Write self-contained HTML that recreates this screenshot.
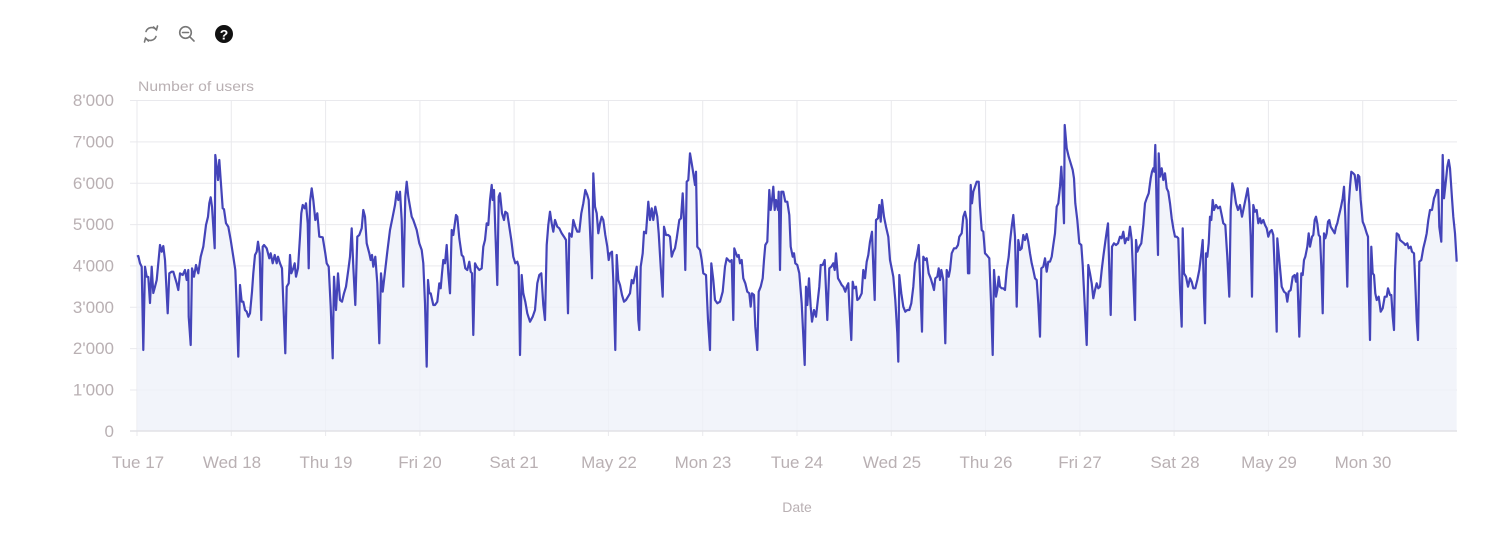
<!DOCTYPE html>
<html><head><meta charset="utf-8"><style>
html,body{margin:0;padding:0;background:#fff;}
svg{display:block;}
text{font-family:"Liberation Sans",sans-serif;}
</style></head><body>
<svg width="1500" height="535" viewBox="0 0 1500 535" xmlns="http://www.w3.org/2000/svg">
<!-- toolbar icons -->
<g fill="none" stroke="#777" stroke-width="1.6" stroke-linecap="round">
  <path d="M146 31.5 A6 6 0 0 1 156 29.5"/>
  <path d="M156 36.5 A6 6 0 0 1 146 38.5"/>
  <path d="M153.5 27 L156.5 29.8 L157.5 26"/>
  <path d="M148.5 41 L145.5 38.2 L144.5 42"/>
  <circle cx="185.5" cy="32.5" r="5.8"/>
  <line x1="189.8" y1="36.8" x2="194" y2="41"/>
  <line x1="182.5" y1="32.5" x2="188.5" y2="32.5"/>
</g>
<circle cx="224" cy="34" r="9" fill="#111"/>
<text x="224" y="39.5" font-size="14" font-weight="bold" fill="#fff" text-anchor="middle">?</text>

<text x="138" y="91" font-size="14" fill="#b9b0b3" textLength="116" lengthAdjust="spacingAndGlyphs">Number of users</text>

<!-- plot background fill area -->
<g stroke="#e9e9ed" stroke-width="1">
  <line x1="130" y1="100.5" x2="1457" y2="100.5"/>
  <line x1="130" y1="141.9" x2="1457" y2="141.9"/>
  <line x1="130" y1="183.2" x2="1457" y2="183.2"/>
  <line x1="130" y1="224.6" x2="1457" y2="224.6"/>
  <line x1="130" y1="265.9" x2="1457" y2="265.9"/>
  <line x1="130" y1="307.3" x2="1457" y2="307.3"/>
  <line x1="130" y1="348.6" x2="1457" y2="348.6"/>
  <line x1="130" y1="390" x2="1457" y2="390"/>
  <line x1="137" y1="100" x2="137" y2="436"/>
  <line x1="231.3" y1="100" x2="231.3" y2="436"/>
  <line x1="325.6" y1="100" x2="325.6" y2="436"/>
  <line x1="419.9" y1="100" x2="419.9" y2="436"/>
  <line x1="514.1" y1="100" x2="514.1" y2="436"/>
  <line x1="608.4" y1="100" x2="608.4" y2="436"/>
  <line x1="702.7" y1="100" x2="702.7" y2="436"/>
  <line x1="797" y1="100" x2="797" y2="436"/>
  <line x1="891.3" y1="100" x2="891.3" y2="436"/>
  <line x1="985.6" y1="100" x2="985.6" y2="436"/>
  <line x1="1079.9" y1="100" x2="1079.9" y2="436"/>
  <line x1="1174.1" y1="100" x2="1174.1" y2="436"/>
  <line x1="1268.4" y1="100" x2="1268.4" y2="436"/>
  <line x1="1362.7" y1="100" x2="1362.7" y2="436"/>
</g>

<path id="series" fill="#eef0f8" fill-opacity="0.75" stroke="none" d="M137,431 L137,256.7 138.3,256 140,263.3 141.7,266.7 143.3,350 145,266.7 146.7,276.7 148.3,277 150,303 151.7,266.7 153.3,293 155,286.7 156.7,280 160,245 161.7,251.7 163.3,246 165,260 167.7,313.3 169.3,273.3 171.7,271.7 173.3,271.7 176.7,283.3 178.3,290 180,273.3 182.7,275 185,270 186.7,280 188.3,270 188.7,316.7 190.7,345 192,268.3 194,276.7 196,265 198.3,273.3 200.7,256.7 203.3,246.7 206,225 208,216.7 209.3,203.3 210.7,197.3 212,206.7 213.3,226.7 214.7,248.3 215.3,155 216.7,166.7 218,180 219.3,160 220.7,180 222.7,208.3 224,209.3 226,223.3 228.3,226.7 230.7,240 233.3,256.7 235.3,270 236.7,306.7 238.3,356.7 240,285 241.7,301.7 243.3,301.7 245,310 246.7,311.7 248.3,316.7 250,313.3 252,291.7 253.3,273.3 255,255 256.7,251.7 258,241.7 259.7,253.3 261.3,320 262.7,246.7 264,245 266.7,248.3 269.3,258.3 270.7,253.3 272.7,263.3 274.7,255 276.7,263.3 278,256.7 280,263.3 282,268.3 284,320 285.3,353.3 286.7,286.7 288.7,283.3 290,255 291.3,273.3 293.3,268.3 294.7,263.3 296,276.7 298,268.3 300,236.7 301.3,213.3 302.7,205 304.7,208.3 306,203.3 307.7,223.3 308.7,268.3 310,201.7 311.7,188.3 313.3,200 315.3,220 317.3,213.3 319.3,236.7 322.7,237.3 325.3,253.3 326.7,263.3 328.7,266.7 330.7,306.7 332.7,358.3 334,276.7 336,310 338,273.3 340,300 342,301.7 344,293.3 346,286.7 348.3,270 350,256.7 351.7,228.3 353.3,266.7 355.3,305 357.3,236.7 359.3,235 361.7,228.3 363.3,210 365,216.7 366.7,243.3 369.3,253.3 370.7,260 372,255 373.3,266.7 375.3,256.7 377.3,283.3 379.3,343.3 381,273.3 382.7,291.7 385,271.7 387.3,251.7 390,230 392.7,216.7 395,205 396.7,191.7 398.3,200 400,191.7 401.7,220 403.3,286.7 405.3,196.7 406.7,181.7 408.3,196.7 410,206.7 411.7,216.7 413.3,220 416.7,230 419.3,243.3 421.7,250 423.3,263.3 425,303.3 426.7,366.7 428,280 429.3,293.3 430.7,293.3 433.3,305 435,305 437.3,301.7 439.3,283.3 440.7,288.3 442,273.3 443.3,260 445,263.3 446.7,245 448.3,273.3 450,293.3 451.7,230 453.3,235 456,215 457.3,216.7 459.3,238.3 461.7,255 463.3,256.7 465.3,268.3 467.3,270 469.3,261.7 470.7,271.7 472,273.3 473.3,335 475,263.3 476.7,266.7 479.3,270 481.7,268.3 483.3,246.7 485,240 486.7,223.3 488.3,225 490,200 491.7,185 492.7,200 494,190 495.3,230 497.3,285 498.7,196.7 500,193.3 502,213.3 504,220 505.3,211.7 507.3,213.3 509.3,226.7 511.3,240 513.3,256.7 515.3,263.3 517.3,261.7 518.7,266.7 520,355 521.7,275 523.3,293.3 525.3,301.7 527.3,313.3 530,321.7 532.7,316.7 535,310 537.3,283.3 539.3,275 541.3,273.3 543.3,305 545,320 546.7,245 548.3,225 550,211.7 551.7,223.3 553.3,231.7 555,220 557.3,226.7 559.3,228.3 561.7,233.3 564,236.7 566,240 568,313.3 569.3,233.3 571.7,236.7 573.3,220 575.3,226.7 577.3,231.7 579.3,231.7 581.3,213.3 583.3,203.3 585.3,190 587.3,195 588.7,200 590,230 592,278.3 593.3,173.3 595,206.7 596.7,213.3 598.3,233.3 600,223.3 601.7,216.7 603.3,220 605.3,235 607.3,246.7 608.7,260 610,253.3 612,251.7 613.3,280 615.3,350 616.7,255 618.3,280 620,285 622,295 624,301.7 626,300 628,296.7 630,293.3 631.7,280 633.3,283.3 635,275 636.7,266.7 638.3,320 639.3,330 640.7,266.7 642.7,253.3 644,231.7 646,233.3 648.3,201.7 650,220 651.7,208.3 653.3,220 655.3,206.7 657.3,216.7 658.7,233.3 660.7,266.7 662.7,296.7 664,226.7 666,235 668.3,235 670,236.7 671.7,256.7 673.3,251.7 675,248.3 676.7,238.3 679.3,220 681,218.3 682.7,193.3 684,220 685.3,270 686.7,181.7 688.3,180 690,153.3 691.7,163.3 693.3,173.3 695,185 696,171.7 697.3,246.7 700,250 701.7,260 703.3,273.3 706,275 708,320 710,350 711.3,263.3 713.3,280 715,300 717.3,303.3 720,301.7 722.7,291.7 725,266.7 726.7,258.3 728.3,260 730,261.7 731.7,260 733.3,320 734.3,248.3 736,253.3 737.3,256.7 738.7,255 740,263.3 741.7,260 743.3,278.3 745.3,283.3 747.3,291.7 749.3,293.3 750.7,306.7 752,293.3 754,295 755.3,326.7 757.3,350 758.7,291.7 760.7,286.7 762.7,278.3 764,260 765.3,245 767.3,241.7 769.3,190 770.7,210 772,200 773.3,186.7 774.7,210 776,200 778,210 778.7,191.7 780,270 781.3,191.7 783.3,191.7 785.3,201.7 787.3,201.7 789.3,215 790.7,246.7 792.7,256.7 794,253.3 795.3,263.3 797.3,265 799.3,273.3 801.7,303.3 804.7,365 806,286.7 807.3,305 809,278.3 810.7,306.7 812,321.7 814,310 816,316.7 817.3,305 819.3,286.7 820.7,265 822.7,265 824.7,260 826,290 827.3,320 829.3,268.3 831.3,266.7 833.3,263.3 834.7,270 836,253.3 838,278.3 840,281.7 841.7,285 843.3,286.7 845.3,291.7 846.7,286.7 848.3,283.3 849.3,305 851.3,340 852.7,281.7 854,288.3 856,286.7 857.3,300 859.3,298.3 861.7,293.3 863.3,270 865,278.3 866.7,261.7 868.3,255 870,241.7 872,231.7 873.3,266.7 874.7,300 876,220 878,218.3 879.3,205 880.7,221.7 882,200 884,216.7 886,226.7 888.3,236.7 890,260 892,270 893.3,276.7 895.3,300 897.3,333.3 898.3,361.7 899.3,275 901.3,293.3 903.3,306.7 905.3,311.7 907.3,310 909.3,310 911.3,303.3 913.3,286.7 915,263.3 916.7,256.7 918.7,245 920,276.7 922,331.7 923.3,256.7 925.3,260 926.7,258.3 928.7,273.3 930.7,278.3 932.7,285 934,290 935.3,278.3 937.3,276.7 938.7,268.3 940,280 941.3,270 943.3,280 945.3,343.3 946.7,270 948.7,276.7 950,270 951.7,253.3 954,248.3 956,248.3 958,245 959.3,236.7 961.7,233.3 963.3,216.7 965,211.7 966.7,220 968,273.3 969.3,273.3 970.7,185 972,203.3 973.3,191.7 975,186.7 976.7,181.7 978.7,181.7 980,206.7 981.7,230 983.3,231.7 985,253.3 986.7,255 989.3,258.3 991,301.7 992.7,355 994,270 996,296.7 997.3,290 998.7,276.7 1000,286.7 1001.7,288.3 1003.3,288.3 1005,290 1006.7,270 1008.7,256.7 1010,241.7 1011.7,226.7 1013.3,215 1015,236.7 1016.7,306.7 1018.3,240 1020,250 1021.7,248.3 1023.3,235 1025,240 1026.7,234 1028.3,241.7 1030,253.3 1031.7,263.3 1033.3,270 1035,278.3 1036.7,280 1038.3,303.3 1040,336.7 1041.3,268.3 1043.3,266.7 1045,258.3 1046.7,271.7 1048.3,261.7 1050,261.7 1051.7,256.7 1053.3,245 1055,233.3 1056.7,206.7 1058.3,203.3 1060,186.7 1061.3,166.7 1062.7,191.7 1064,223.3 1064.7,125 1066.7,148.3 1068.7,156.7 1070.7,163.3 1072.7,170 1074,178.3 1075.3,203.3 1077.3,220 1079.3,243.3 1081.3,245 1082.7,265 1084.3,296.7 1086.7,345 1088.3,265 1090,273.3 1091.7,283.3 1093.3,298.3 1095,290 1096.7,283.3 1098.3,288.3 1100,286.7 1101.7,270 1103.3,256.7 1105.3,241.7 1106.7,231.7 1108,223.3 1109.3,270 1110.7,315 1112,246.7 1114,243.3 1116,245 1118,243.3 1120,236.7 1121.7,238.3 1123.3,231.7 1125,243.3 1126.7,238.3 1128.3,240 1130,226.7 1131.7,240 1133.3,280 1135,320 1136,240 1137.3,251.7 1139.3,246.7 1141.3,243.3 1143.3,225 1145,203.3 1146.7,198.3 1148.7,193.3 1150.7,178.3 1152,171.7 1153.3,168.3 1154.3,171.7 1155.3,145 1156.7,210 1158,255 1158.7,153.3 1160,176.7 1161.7,168.3 1163.3,180 1165,173.3 1166.7,188.3 1168.3,191.7 1170,203.3 1171.7,218.3 1173.3,228.3 1175,236.7 1176.7,236.7 1178.3,238.3 1180,290 1181.7,326.7 1182.7,228.3 1184,273.3 1186,276.7 1188,286.7 1190,278.3 1191.7,281.7 1193.3,288.3 1195.3,288.3 1197.3,280 1199.3,270 1201.3,253.3 1202.7,240 1204,296.7 1205,323.3 1206,253.3 1207.3,256.7 1208.7,243.3 1210,216.7 1211.3,220 1212.7,200 1214,210 1216,205 1218,208.3 1220,206.7 1221.7,215 1223.3,223.3 1225.3,225 1227.3,256.7 1229.3,296.7 1230.7,210 1232.3,183.3 1234,190 1236,203.3 1238,210 1240,205 1242,216.7 1244,206.7 1246,196.7 1247.7,188.3 1249.3,203.3 1250.7,236.7 1252,296.7 1253.3,205 1255,211.7 1256.7,210 1258.3,223.3 1260,218.3 1261.3,223.3 1263.3,220 1265,225 1266.7,228.3 1268.3,236.7 1270,231.7 1271.7,230 1273.3,235 1275,276.7 1276.7,331.7 1277.3,238.3 1279.3,260 1281.7,286.7 1284,291.7 1286,293.3 1287.3,301.7 1288.7,291.7 1290.7,290 1292.7,276.7 1294.7,275 1296,281.7 1297.3,273.3 1299.3,336.7 1301.3,273.3 1302.7,275 1304,260 1305.3,256.7 1307.3,246.7 1308.7,233.3 1310,246.7 1312,236.7 1313.3,235 1314.7,220 1316,216.7 1317.3,223.3 1318.7,235 1320,236.7 1321.3,266.7 1322.7,313.3 1324,233.3 1325.3,238.3 1326.7,233.3 1328,221.7 1329.3,220 1330.7,226.7 1332.7,230 1334.7,233.3 1336,226.7 1337.3,223.3 1338.7,216.7 1340.7,208.3 1342.7,198.3 1344,186.7 1345.3,216.7 1347.3,286.7 1348.7,205 1350,186.7 1351.3,171.7 1353.3,173.3 1354.7,175 1356.7,190 1358,175 1359.3,176.7 1360.7,200 1362.7,221.7 1364.7,226.7 1366.7,233.3 1368,236.7 1368.7,286.7 1370,340 1371.3,246.7 1372.7,273.3 1374,275 1375.3,293.3 1376.7,300 1378.7,296.7 1380.7,311.7 1382.7,308.3 1384.7,296.7 1386.7,296.7 1388,288.3 1390,295 1391.3,295 1392.7,316.7 1394,330 1395,271.7 1396.7,233.3 1398.7,235 1400,240 1402,241.7 1404,243.3 1405.3,245 1407.3,243.3 1408.7,248.3 1410.7,246.7 1412,251.7 1414,253.3 1415.3,283.3 1416.7,320 1418,340 1419.3,261.7 1421.3,260 1423.3,248.3 1425.3,240 1426.7,233.3 1428.3,220 1430,210 1432,210 1434,198.3 1435.3,195 1436.7,190 1438.3,190 1439.3,226.7 1441.3,241.7 1442.7,155 1444,198.3 1446,180 1447.3,166.7 1448.7,160 1450,168.3 1452,198.3 1453.3,216.7 1455,233.3 1456.7,261.7 L1456.7,431 Z"/>

<!-- baseline -->
<line x1="130" y1="431" x2="1457" y2="431" stroke="#e2e2e6" stroke-width="1.5"/>

<polyline fill="none" stroke="#4444b9" stroke-width="2.2" stroke-linejoin="round" points="137,256.7 138.3,256 140,263.3 141.7,266.7 143.3,350 145,266.7 146.7,276.7 148.3,277 150,303 151.7,266.7 153.3,293 155,286.7 156.7,280 160,245 161.7,251.7 163.3,246 165,260 167.7,313.3 169.3,273.3 171.7,271.7 173.3,271.7 176.7,283.3 178.3,290 180,273.3 182.7,275 185,270 186.7,280 188.3,270 188.7,316.7 190.7,345 192,268.3 194,276.7 196,265 198.3,273.3 200.7,256.7 203.3,246.7 206,225 208,216.7 209.3,203.3 210.7,197.3 212,206.7 213.3,226.7 214.7,248.3 215.3,155 216.7,166.7 218,180 219.3,160 220.7,180 222.7,208.3 224,209.3 226,223.3 228.3,226.7 230.7,240 233.3,256.7 235.3,270 236.7,306.7 238.3,356.7 240,285 241.7,301.7 243.3,301.7 245,310 246.7,311.7 248.3,316.7 250,313.3 252,291.7 253.3,273.3 255,255 256.7,251.7 258,241.7 259.7,253.3 261.3,320 262.7,246.7 264,245 266.7,248.3 269.3,258.3 270.7,253.3 272.7,263.3 274.7,255 276.7,263.3 278,256.7 280,263.3 282,268.3 284,320 285.3,353.3 286.7,286.7 288.7,283.3 290,255 291.3,273.3 293.3,268.3 294.7,263.3 296,276.7 298,268.3 300,236.7 301.3,213.3 302.7,205 304.7,208.3 306,203.3 307.7,223.3 308.7,268.3 310,201.7 311.7,188.3 313.3,200 315.3,220 317.3,213.3 319.3,236.7 322.7,237.3 325.3,253.3 326.7,263.3 328.7,266.7 330.7,306.7 332.7,358.3 334,276.7 336,310 338,273.3 340,300 342,301.7 344,293.3 346,286.7 348.3,270 350,256.7 351.7,228.3 353.3,266.7 355.3,305 357.3,236.7 359.3,235 361.7,228.3 363.3,210 365,216.7 366.7,243.3 369.3,253.3 370.7,260 372,255 373.3,266.7 375.3,256.7 377.3,283.3 379.3,343.3 381,273.3 382.7,291.7 385,271.7 387.3,251.7 390,230 392.7,216.7 395,205 396.7,191.7 398.3,200 400,191.7 401.7,220 403.3,286.7 405.3,196.7 406.7,181.7 408.3,196.7 410,206.7 411.7,216.7 413.3,220 416.7,230 419.3,243.3 421.7,250 423.3,263.3 425,303.3 426.7,366.7 428,280 429.3,293.3 430.7,293.3 433.3,305 435,305 437.3,301.7 439.3,283.3 440.7,288.3 442,273.3 443.3,260 445,263.3 446.7,245 448.3,273.3 450,293.3 451.7,230 453.3,235 456,215 457.3,216.7 459.3,238.3 461.7,255 463.3,256.7 465.3,268.3 467.3,270 469.3,261.7 470.7,271.7 472,273.3 473.3,335 475,263.3 476.7,266.7 479.3,270 481.7,268.3 483.3,246.7 485,240 486.7,223.3 488.3,225 490,200 491.7,185 492.7,200 494,190 495.3,230 497.3,285 498.7,196.7 500,193.3 502,213.3 504,220 505.3,211.7 507.3,213.3 509.3,226.7 511.3,240 513.3,256.7 515.3,263.3 517.3,261.7 518.7,266.7 520,355 521.7,275 523.3,293.3 525.3,301.7 527.3,313.3 530,321.7 532.7,316.7 535,310 537.3,283.3 539.3,275 541.3,273.3 543.3,305 545,320 546.7,245 548.3,225 550,211.7 551.7,223.3 553.3,231.7 555,220 557.3,226.7 559.3,228.3 561.7,233.3 564,236.7 566,240 568,313.3 569.3,233.3 571.7,236.7 573.3,220 575.3,226.7 577.3,231.7 579.3,231.7 581.3,213.3 583.3,203.3 585.3,190 587.3,195 588.7,200 590,230 592,278.3 593.3,173.3 595,206.7 596.7,213.3 598.3,233.3 600,223.3 601.7,216.7 603.3,220 605.3,235 607.3,246.7 608.7,260 610,253.3 612,251.7 613.3,280 615.3,350 616.7,255 618.3,280 620,285 622,295 624,301.7 626,300 628,296.7 630,293.3 631.7,280 633.3,283.3 635,275 636.7,266.7 638.3,320 639.3,330 640.7,266.7 642.7,253.3 644,231.7 646,233.3 648.3,201.7 650,220 651.7,208.3 653.3,220 655.3,206.7 657.3,216.7 658.7,233.3 660.7,266.7 662.7,296.7 664,226.7 666,235 668.3,235 670,236.7 671.7,256.7 673.3,251.7 675,248.3 676.7,238.3 679.3,220 681,218.3 682.7,193.3 684,220 685.3,270 686.7,181.7 688.3,180 690,153.3 691.7,163.3 693.3,173.3 695,185 696,171.7 697.3,246.7 700,250 701.7,260 703.3,273.3 706,275 708,320 710,350 711.3,263.3 713.3,280 715,300 717.3,303.3 720,301.7 722.7,291.7 725,266.7 726.7,258.3 728.3,260 730,261.7 731.7,260 733.3,320 734.3,248.3 736,253.3 737.3,256.7 738.7,255 740,263.3 741.7,260 743.3,278.3 745.3,283.3 747.3,291.7 749.3,293.3 750.7,306.7 752,293.3 754,295 755.3,326.7 757.3,350 758.7,291.7 760.7,286.7 762.7,278.3 764,260 765.3,245 767.3,241.7 769.3,190 770.7,210 772,200 773.3,186.7 774.7,210 776,200 778,210 778.7,191.7 780,270 781.3,191.7 783.3,191.7 785.3,201.7 787.3,201.7 789.3,215 790.7,246.7 792.7,256.7 794,253.3 795.3,263.3 797.3,265 799.3,273.3 801.7,303.3 804.7,365 806,286.7 807.3,305 809,278.3 810.7,306.7 812,321.7 814,310 816,316.7 817.3,305 819.3,286.7 820.7,265 822.7,265 824.7,260 826,290 827.3,320 829.3,268.3 831.3,266.7 833.3,263.3 834.7,270 836,253.3 838,278.3 840,281.7 841.7,285 843.3,286.7 845.3,291.7 846.7,286.7 848.3,283.3 849.3,305 851.3,340 852.7,281.7 854,288.3 856,286.7 857.3,300 859.3,298.3 861.7,293.3 863.3,270 865,278.3 866.7,261.7 868.3,255 870,241.7 872,231.7 873.3,266.7 874.7,300 876,220 878,218.3 879.3,205 880.7,221.7 882,200 884,216.7 886,226.7 888.3,236.7 890,260 892,270 893.3,276.7 895.3,300 897.3,333.3 898.3,361.7 899.3,275 901.3,293.3 903.3,306.7 905.3,311.7 907.3,310 909.3,310 911.3,303.3 913.3,286.7 915,263.3 916.7,256.7 918.7,245 920,276.7 922,331.7 923.3,256.7 925.3,260 926.7,258.3 928.7,273.3 930.7,278.3 932.7,285 934,290 935.3,278.3 937.3,276.7 938.7,268.3 940,280 941.3,270 943.3,280 945.3,343.3 946.7,270 948.7,276.7 950,270 951.7,253.3 954,248.3 956,248.3 958,245 959.3,236.7 961.7,233.3 963.3,216.7 965,211.7 966.7,220 968,273.3 969.3,273.3 970.7,185 972,203.3 973.3,191.7 975,186.7 976.7,181.7 978.7,181.7 980,206.7 981.7,230 983.3,231.7 985,253.3 986.7,255 989.3,258.3 991,301.7 992.7,355 994,270 996,296.7 997.3,290 998.7,276.7 1000,286.7 1001.7,288.3 1003.3,288.3 1005,290 1006.7,270 1008.7,256.7 1010,241.7 1011.7,226.7 1013.3,215 1015,236.7 1016.7,306.7 1018.3,240 1020,250 1021.7,248.3 1023.3,235 1025,240 1026.7,234 1028.3,241.7 1030,253.3 1031.7,263.3 1033.3,270 1035,278.3 1036.7,280 1038.3,303.3 1040,336.7 1041.3,268.3 1043.3,266.7 1045,258.3 1046.7,271.7 1048.3,261.7 1050,261.7 1051.7,256.7 1053.3,245 1055,233.3 1056.7,206.7 1058.3,203.3 1060,186.7 1061.3,166.7 1062.7,191.7 1064,223.3 1064.7,125 1066.7,148.3 1068.7,156.7 1070.7,163.3 1072.7,170 1074,178.3 1075.3,203.3 1077.3,220 1079.3,243.3 1081.3,245 1082.7,265 1084.3,296.7 1086.7,345 1088.3,265 1090,273.3 1091.7,283.3 1093.3,298.3 1095,290 1096.7,283.3 1098.3,288.3 1100,286.7 1101.7,270 1103.3,256.7 1105.3,241.7 1106.7,231.7 1108,223.3 1109.3,270 1110.7,315 1112,246.7 1114,243.3 1116,245 1118,243.3 1120,236.7 1121.7,238.3 1123.3,231.7 1125,243.3 1126.7,238.3 1128.3,240 1130,226.7 1131.7,240 1133.3,280 1135,320 1136,240 1137.3,251.7 1139.3,246.7 1141.3,243.3 1143.3,225 1145,203.3 1146.7,198.3 1148.7,193.3 1150.7,178.3 1152,171.7 1153.3,168.3 1154.3,171.7 1155.3,145 1156.7,210 1158,255 1158.7,153.3 1160,176.7 1161.7,168.3 1163.3,180 1165,173.3 1166.7,188.3 1168.3,191.7 1170,203.3 1171.7,218.3 1173.3,228.3 1175,236.7 1176.7,236.7 1178.3,238.3 1180,290 1181.7,326.7 1182.7,228.3 1184,273.3 1186,276.7 1188,286.7 1190,278.3 1191.7,281.7 1193.3,288.3 1195.3,288.3 1197.3,280 1199.3,270 1201.3,253.3 1202.7,240 1204,296.7 1205,323.3 1206,253.3 1207.3,256.7 1208.7,243.3 1210,216.7 1211.3,220 1212.7,200 1214,210 1216,205 1218,208.3 1220,206.7 1221.7,215 1223.3,223.3 1225.3,225 1227.3,256.7 1229.3,296.7 1230.7,210 1232.3,183.3 1234,190 1236,203.3 1238,210 1240,205 1242,216.7 1244,206.7 1246,196.7 1247.7,188.3 1249.3,203.3 1250.7,236.7 1252,296.7 1253.3,205 1255,211.7 1256.7,210 1258.3,223.3 1260,218.3 1261.3,223.3 1263.3,220 1265,225 1266.7,228.3 1268.3,236.7 1270,231.7 1271.7,230 1273.3,235 1275,276.7 1276.7,331.7 1277.3,238.3 1279.3,260 1281.7,286.7 1284,291.7 1286,293.3 1287.3,301.7 1288.7,291.7 1290.7,290 1292.7,276.7 1294.7,275 1296,281.7 1297.3,273.3 1299.3,336.7 1301.3,273.3 1302.7,275 1304,260 1305.3,256.7 1307.3,246.7 1308.7,233.3 1310,246.7 1312,236.7 1313.3,235 1314.7,220 1316,216.7 1317.3,223.3 1318.7,235 1320,236.7 1321.3,266.7 1322.7,313.3 1324,233.3 1325.3,238.3 1326.7,233.3 1328,221.7 1329.3,220 1330.7,226.7 1332.7,230 1334.7,233.3 1336,226.7 1337.3,223.3 1338.7,216.7 1340.7,208.3 1342.7,198.3 1344,186.7 1345.3,216.7 1347.3,286.7 1348.7,205 1350,186.7 1351.3,171.7 1353.3,173.3 1354.7,175 1356.7,190 1358,175 1359.3,176.7 1360.7,200 1362.7,221.7 1364.7,226.7 1366.7,233.3 1368,236.7 1368.7,286.7 1370,340 1371.3,246.7 1372.7,273.3 1374,275 1375.3,293.3 1376.7,300 1378.7,296.7 1380.7,311.7 1382.7,308.3 1384.7,296.7 1386.7,296.7 1388,288.3 1390,295 1391.3,295 1392.7,316.7 1394,330 1395,271.7 1396.7,233.3 1398.7,235 1400,240 1402,241.7 1404,243.3 1405.3,245 1407.3,243.3 1408.7,248.3 1410.7,246.7 1412,251.7 1414,253.3 1415.3,283.3 1416.7,320 1418,340 1419.3,261.7 1421.3,260 1423.3,248.3 1425.3,240 1426.7,233.3 1428.3,220 1430,210 1432,210 1434,198.3 1435.3,195 1436.7,190 1438.3,190 1439.3,226.7 1441.3,241.7 1442.7,155 1444,198.3 1446,180 1447.3,166.7 1448.7,160 1450,168.3 1452,198.3 1453.3,216.7 1455,233.3 1456.7,261.7"/>

<!-- y axis labels -->
<g font-size="17" fill="#b9b0b3" text-anchor="end">
  <text x="114" y="106">8'000</text>
  <text x="114" y="147.5">7'000</text>
  <text x="114" y="188.8">6'000</text>
  <text x="114" y="230.2">5'000</text>
  <text x="114" y="271.5">4'000</text>
  <text x="114" y="312.9">3'000</text>
  <text x="114" y="354.2">2'000</text>
  <text x="114" y="395.6">1'000</text>
  <text x="114" y="437">0</text>
</g>

<!-- x axis labels -->
<g font-size="17" fill="#b9b0b3" text-anchor="middle">
  <text x="138" y="468">Tue 17</text>
  <text x="232" y="468">Wed 18</text>
  <text x="326" y="468">Thu 19</text>
  <text x="420" y="468">Fri 20</text>
  <text x="514" y="468">Sat 21</text>
  <text x="609" y="468">May 22</text>
  <text x="703" y="468">Mon 23</text>
  <text x="797" y="468">Tue 24</text>
  <text x="892" y="468">Wed 25</text>
  <text x="986" y="468">Thu 26</text>
  <text x="1080" y="468">Fri 27</text>
  <text x="1175" y="468">Sat 28</text>
  <text x="1269" y="468">May 29</text>
  <text x="1363" y="468">Mon 30</text>
</g>

<text x="797" y="512" font-size="14" fill="#b9b0b3" text-anchor="middle">Date</text>
</svg>
</body></html>
